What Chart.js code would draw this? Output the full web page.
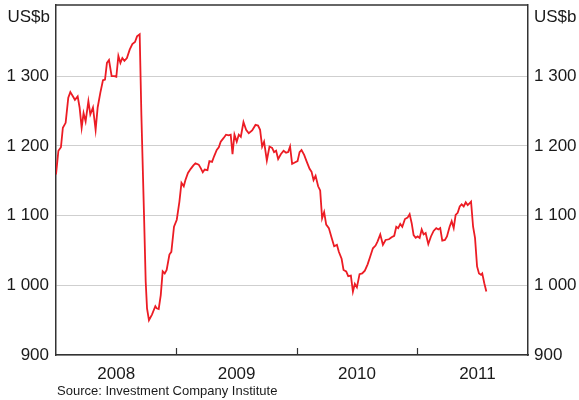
<!DOCTYPE html>
<html>
<head>
<meta charset="utf-8">
<script src="https://cdn.jsdelivr.net/npm/chart.js@4.4.0/dist/chart.umd.min.js"></script>
<style>
  html, body { margin: 0; padding: 0; background: #fff; }
  #wrap { width: 579px; height: 400px; }
</style>
</head>
<body>
<div id="wrap"><canvas id="fundChart" width="579" height="400"></canvas></div>
<script>
// weekly totals, US$b (decimal year -> value)
const dates = [
  2008.00, 2008.02, 2008.041, 2008.057, 2008.080, 2008.102, 2008.119, 2008.140, 2008.157, 2008.180,
  2008.196, 2008.213, 2008.229, 2008.246, 2008.269, 2008.285, 2008.307, 2008.329, 2008.346, 2008.368,
  2008.390, 2008.407, 2008.423, 2008.440, 2008.462, 2008.485, 2008.501, 2008.518, 2008.535, 2008.551,
  2008.568, 2008.589, 2008.612, 2008.634, 2008.656, 2008.673, 2008.695, 2008.709, 2008.731, 2008.745,
  2008.756, 2008.772, 2008.797, 2008.825, 2008.836, 2008.853, 2008.870, 2008.886, 2008.903, 2008.919,
  2008.942, 2008.958, 2008.980, 2009.003, 2009.025, 2009.042, 2009.061, 2009.075, 2009.096, 2009.119,
  2009.141, 2009.158, 2009.185, 2009.202, 2009.219, 2009.235, 2009.258, 2009.274, 2009.296, 2009.313,
  2009.335, 2009.352, 2009.368, 2009.391, 2009.412, 2009.435, 2009.451, 2009.466, 2009.482, 2009.501,
  2009.518, 2009.535, 2009.557, 2009.579, 2009.601, 2009.629, 2009.657, 2009.678, 2009.695, 2009.712,
  2009.728, 2009.751, 2009.773, 2009.795, 2009.811, 2009.828, 2009.845, 2009.867, 2009.890, 2009.911,
  2009.928, 2009.944, 2009.961, 2009.983, 2010.006, 2010.023, 2010.039, 2010.061, 2010.083, 2010.106,
  2010.122, 2010.139, 2010.156, 2010.177, 2010.194, 2010.210, 2010.227, 2010.244, 2010.266, 2010.289,
  2010.310, 2010.333, 2010.349, 2010.372, 2010.388, 2010.410, 2010.427, 2010.449, 2010.466, 2010.482,
  2010.499, 2010.521, 2010.543, 2010.565, 2010.588, 2010.609, 2010.632, 2010.654, 2010.671, 2010.693,
  2010.715, 2010.737, 2010.765, 2010.787, 2010.809, 2010.826, 2010.842, 2010.859, 2010.876, 2010.898,
  2010.920, 2010.937, 2010.954, 2010.970, 2010.987, 2011.004, 2011.020, 2011.037, 2011.053, 2011.070,
  2011.092, 2011.114, 2011.136, 2011.158, 2011.175, 2011.191, 2011.208, 2011.230, 2011.247, 2011.269,
  2011.286, 2011.303, 2011.319, 2011.336, 2011.353, 2011.369, 2011.386, 2011.403, 2011.419, 2011.436,
  2011.447, 2011.464, 2011.480, 2011.497, 2011.513, 2011.530, 2011.540, 2011.557, 2011.574
];
const values = [
  1159, 1193, 1198, 1226, 1233, 1269, 1277, 1271, 1266, 1271,
  1255, 1226, 1247, 1235, 1264, 1245, 1255, 1223, 1255, 1276,
  1294, 1295, 1319, 1323, 1300, 1300, 1299, 1329, 1319, 1326,
  1322, 1326, 1338, 1346, 1349, 1357, 1360, 1245, 1101, 1005,
  967, 950, 958, 970, 967, 966, 986, 1020, 1017, 1022,
  1044, 1048, 1084, 1094, 1120, 1147, 1142, 1151, 1161, 1167,
  1172, 1175, 1173, 1168, 1162, 1166, 1165, 1178, 1177, 1185,
  1194, 1198, 1206, 1211, 1216, 1215, 1216, 1188, 1216, 1206,
  1216, 1213, 1234, 1223, 1218, 1222, 1230, 1229, 1223, 1199,
  1206, 1179, 1199, 1197, 1191, 1193, 1181, 1188, 1193, 1190,
  1191, 1199, 1174, 1176, 1178, 1191, 1194, 1187, 1177, 1167,
  1163, 1151, 1157, 1142, 1136, 1096, 1105, 1087, 1082, 1068,
  1056, 1058, 1048, 1038, 1022, 1020, 1013, 1014, 991, 1002,
  997, 1016, 1017, 1021, 1030, 1041, 1053, 1057, 1063, 1073,
  1058, 1065, 1066, 1069, 1071, 1084, 1082, 1088, 1084, 1095,
  1097, 1102, 1089, 1072, 1068, 1070, 1068, 1080, 1073, 1075,
  1059, 1070, 1078, 1082, 1080, 1082, 1064, 1065, 1070, 1084,
  1092, 1082, 1101, 1104, 1113, 1116, 1113, 1119, 1115, 1118,
  1120, 1084, 1068, 1027, 1017, 1015, 1017, 1003, 991
];
const yTicks = [900, 1000, 1100, 1200, 1300];
const yearLabels = [2008, 2009, 2010, 2011];
const yearBreaks = [2009, 2010, 2011];
const unitLabel = 'US$b';
const sourceText = 'Source: Investment Company Institute';

const FONT = '"Liberation Sans", Arial, sans-serif';
const INK = '#1a1a1a';
const FRAME = '#333333';

function fmt(v) {
  return String(v).replace(/\B(?=(\d{3})+(?!\d))/g, ' ');
}

// fixed axis width, and no extra room for the top/bottom labels
function fitY(width) {
  return s => {
    s.width = width;
    s.paddingTop = 0;
    s.paddingBottom = 0;
  };
}

function setYTicks(s) {
  s.ticks = yTicks.map(v => ({ value: v }));
}

// top frame, year boundary ticks, unit labels and source line
const decor = {
  id: 'decor',
  afterDraw(chart) {
    const ctx = chart.ctx;
    const area = chart.chartArea;
    const xs = chart.scales.x;
    ctx.save();
    ctx.strokeStyle = FRAME;
    ctx.lineWidth = 1.5;
    ctx.beginPath();
    ctx.moveTo(area.left, area.top);
    ctx.lineTo(area.right, area.top);
    ctx.stroke();
    ctx.lineWidth = 1.2;
    yearBreaks.forEach(yr => {
      const px = Math.round(xs.getPixelForValue(yr)) + 0.5;
      ctx.beginPath();
      ctx.moveTo(px, area.bottom);
      ctx.lineTo(px, area.bottom - 7);
      ctx.stroke();
    });
    ctx.fillStyle = INK;
    ctx.font = '17px ' + FONT;
    ctx.textBaseline = 'middle';
    ctx.textAlign = 'right';
    ctx.fillText(unitLabel, area.left - 6, 17);
    ctx.textAlign = 'left';
    ctx.fillText(unitLabel, area.right + 6, 17);
    ctx.font = '13px ' + FONT;
    ctx.fillText(sourceText, area.left + 1, 391);
    ctx.restore();
  }
};

new Chart(document.getElementById('fundChart'), {
  type: 'line',
  data: {
    datasets: [{
      data: dates.map((d, i) => ({ x: d, y: values[i] })),
      borderColor: '#ec1c24',
      borderWidth: 1.8,
      pointRadius: 0,
      tension: 0,
      fill: false
    }]
  },
  options: {
    responsive: false,
    animation: false,
    layout: { padding: { top: 5, left: 0, right: 0, bottom: 0 } },
    plugins: { legend: { display: false }, tooltip: { enabled: false } },
    scales: {
      x: {
        type: 'linear',
        min: 2008,
        max: 2011.92,
        afterBuildTicks: s => { s.ticks = yearLabels.map(y => ({ value: y + 0.5 })); },
        afterFit: s => { s.height = 45; },
        grid: { display: false, drawTicks: false },
        border: { display: true, color: FRAME, width: 1.5 },
        ticks: {
          callback: v => String(Math.floor(v)),
          color: INK,
          font: { family: FONT, size: 17 },
          padding: 9,
          maxRotation: 0,
          autoSkip: false
        }
      },
      y: {
        position: 'left',
        min: 900,
        max: 1402,
        afterBuildTicks: setYTicks,
        afterFit: fitY(56),
        grid: { color: '#cfcfcf', lineWidth: 1, drawTicks: false },
        border: { display: true, color: FRAME, width: 1.5 },
        ticks: {
          callback: fmt,
          color: INK,
          font: { family: FONT, size: 17 },
          padding: 7
        }
      },
      y2: {
        position: 'right',
        min: 900,
        max: 1402,
        afterBuildTicks: setYTicks,
        afterFit: fitY(51),
        grid: { drawOnChartArea: false, drawTicks: false },
        border: { display: true, color: FRAME, width: 1.5 },
        ticks: {
          callback: fmt,
          color: INK,
          font: { family: FONT, size: 17 },
          padding: 6
        }
      }
    }
  },
  plugins: [decor]
});
</script>
</body>
</html>
